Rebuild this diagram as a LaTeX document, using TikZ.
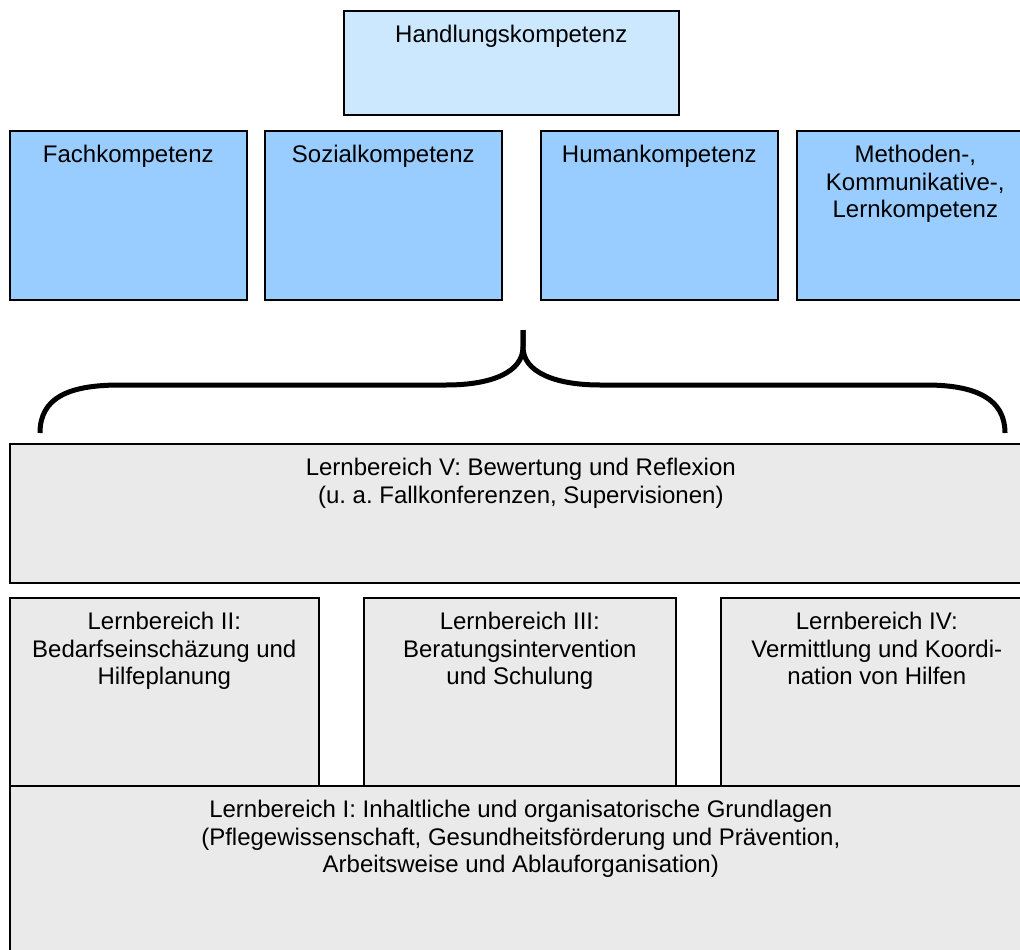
\documentclass[tikz,border=0pt]{standalone}
\usepackage{fontspec}
\setmainfont{Liberation Sans}
\usetikzlibrary{positioning}
\frenchspacing
\definecolor{hkblue}{HTML}{CCE8FF}
\definecolor{kblue}{HTML}{99CCFF}
\definecolor{lbgray}{HTML}{EAEAEA}
\tikzset{
  box/.style={draw=black,line width=1.6pt,anchor=north west,inner sep=0pt},
  topbox/.style={box,fill=hkblue,minimum width=335pt,minimum height=104pt},
  kompbox/.style={box,fill=kblue,minimum width=237pt,minimum height=169pt},
  lbbox/.style={box,fill=lbgray},
  txt/.style={inner sep=0pt,align=center,font=\fontsize{24}{27.6}\selectfont},
  brace/.style={line width=5pt}
}

\begin{document}
\begin{tikzpicture}[x=1pt,y=-1pt]
\useasboundingbox (0,0) rectangle (1020,950);
\clip (0,0) rectangle (1020,950);
% Kompetenzen
\node[topbox] (hk) at (343,10) {};
\node[kompbox] (fach) at (9,130) {};
\node[kompbox] (sozial) at (264,130) {};
\node[kompbox] (human) at (540,130) {};
\node[kompbox] (methoden) at (796,130) {};
\node[txt,below=15pt of hk.north] (hktxt) {Handlungskompetenz};
\node[txt,below=15pt of fach.north] (fachtxt) {Fachkompetenz};
\node[txt,below=15pt of sozial.north] (sozialtxt) {Sozialkompetenz};
\node[txt,below=15pt of human.north] (humantxt) {Humankompetenz};
\node[txt,below=15pt of methoden.north] (methodentxt) {Methoden-,\\Kommunikative-,\\Lernkompetenz};
% Klammer
\coordinate (bl) at (40,433);
\coordinate (bm) at (523,330);
\coordinate (br) at (1005,433);
\draw[brace] (bl) .. controls (40,398) and (68,385) .. (120,385) -- (446,385) .. controls (492,385) and (523,372) .. (523,347) -- (bm);
\draw[brace] (bm) -- (523,347) .. controls (523,372) and (555,385) .. (600,385) -- (926,385) .. controls (978,385) and (1005,400) .. (br);
% Lernbereiche
\node[lbbox,minimum width=1022pt,minimum height=139pt] (lb5) at (9,443) {};
\node[lbbox,minimum width=309pt,minimum height=188pt] (lb2) at (9,597) {};
\node[lbbox,minimum width=312pt,minimum height=188pt] (lb3) at (363,597) {};
\node[lbbox,minimum width=312pt,minimum height=188pt] (lb4) at (720,597) {};
\node[lbbox,minimum width=1022pt,minimum height=180pt] (lb1) at (9,785) {};
\node[txt,below=15pt of lb5.north] (lb5txt) {Lernbereich V: Bewertung und Reflexion\\(u.\ a. Fallkonferenzen, Supervisionen)};
\node[txt,below=15pt of lb2.north] (lb2txt) {Lernbereich II:\\Bedarfseinschäzung und\\Hilfeplanung};
\node[txt,below=15pt of lb3.north] (lb3txt) {Lernbereich III:\\Beratungsintervention\\und Schulung};
\node[txt,below=15pt of lb4.north] (lb4txt) {Lernbereich IV:\\Vermittlung und Koordi-\\nation von Hilfen};
\node[txt,below=15pt of lb1.north] (lb1txt) {Lernbereich I: Inhaltliche und organisatorische Grundlagen\\(Pflegewissenschaft, Gesundheitsförderung und Prävention,\\Arbeitsweise und Ablauforganisation)};
\end{tikzpicture}
\end{document}
